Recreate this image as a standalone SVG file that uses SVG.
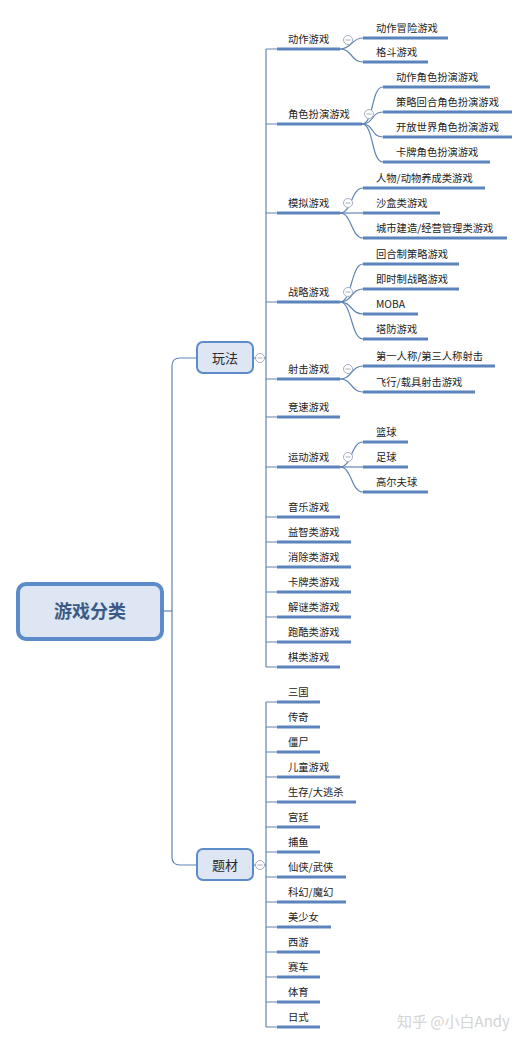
<svg xmlns="http://www.w3.org/2000/svg" width="529" height="1046" viewBox="0 0 529 1046">
<style>
.t{font-family:"Noto Sans CJK SC","Noto Sans",sans-serif;font-size:10.3px;fill:#222}
.u{stroke:#5a84bb;stroke-width:3;fill:none}
.c{stroke:#5f84b4;stroke-width:1.2;fill:none}
.b{fill:#dde6f2;stroke:#5b8bc9}
.bt{font-family:"Noto Sans CJK SC","Noto Sans",sans-serif;font-size:13px;fill:#2a2a2a;text-anchor:middle}
</style>
<defs>
<g id="m"><circle cx="0" cy="0" r="4.5" fill="#fff" stroke="#a3adbf" stroke-width="1"/><line x1="-2.5" y1="0" x2="2.5" y2="0" stroke="#a3adbf" stroke-width="1"/></g>
</defs>
<rect width="529" height="1046" fill="#fff"/>
<g id="connectors" class="c">
<path d="M163,611 H172"/>
<path d="M197,358 H180 Q172,358 172,366 V857 Q172,865 180,865 H197"/>
<path d="M253,358 H266"/>
<path d="M253,865 H266"/>
<path d="M266,49 V667"/>
<path d="M266,702 V1027"/>
<path d="M266,49H277M266,124H277M266,213H277M266,302H277M266,379H277M266,417H277M266,467H277M266,517H277M266,542H277M266,567H277M266,592H277M266,617H277M266,642H277M266,667H277"/>
<path d="M266,702H277M266,727H277M266,752H277M266,777H277M266,802H277M266,827H277M266,852H277M266,877H277M266,902H277M266,927H277M266,952H277M266,977H277M266,1002H277M266,1027H277"/>
<path d="M340,49 C352,49 351,38 363,38"/>
<path d="M340,49 C352,49 351,62 363,62"/>
<path d="M362,124 C374,124 371,87 383,87"/>
<path d="M362,124 C374,124 371,112 383,112"/>
<path d="M362,124 C374,124 371,137 383,137"/>
<path d="M362,124 C374,124 371,162 383,162"/>
<path d="M340,213 C352,213 351,188 363,188"/>
<path d="M340,213 H363"/>
<path d="M340,213 C352,213 351,238 363,238"/>
<path d="M340,302 C352,302 351,264 363,264"/>
<path d="M340,302 C352,302 351,289 363,289"/>
<path d="M340,302 C352,302 351,314 363,314"/>
<path d="M340,302 C352,302 351,339 363,339"/>
<path d="M340,379 C352,379 351,366 363,366"/>
<path d="M340,379 C352,379 351,392 363,392"/>
<path d="M340,467 C352,467 351,442 363,442"/>
<path d="M340,467 H363"/>
<path d="M340,467 C352,467 351,492 363,492"/>
</g>
<g id="root">
<rect class="b" x="18" y="584" width="144" height="55" rx="8" stroke-width="4"/>
<text x="90" y="618" font-family="'Noto Sans CJK SC','Noto Sans',sans-serif" font-size="18" font-weight="bold" fill="#3c5a86" text-anchor="middle">游戏分类</text>
</g>
<g id="wanfa">
<rect class="b" x="197" y="342" width="56" height="31" rx="6" stroke-width="2"/>
<text class="bt" x="225" y="363">玩法</text>
<use href="#m" x="260" y="358"/>
</g>
<g id="ticai">
<rect class="b" x="197" y="849" width="56" height="31" rx="6" stroke-width="2"/>
<text class="bt" x="225" y="870">题材</text>
<use href="#m" x="260" y="865"/>
</g>
<g id="l1-dongzuo"><path class="u" d="M277,49H340"/><text class="t" x="288" y="43">动作游戏</text><use href="#m" x="348" y="40"/></g>
<g id="l2-1"><path class="u" d="M363,38H448"/><text class="t" x="376" y="32">动作冒险游戏</text></g>
<g id="l2-2"><path class="u" d="M363,62H428"/><text class="t" x="376" y="56">格斗游戏</text></g>
<g id="l1-juese"><path class="u" d="M277,124H362"/><text class="t" x="288" y="118">角色扮演游戏</text><use href="#m" x="369" y="114"/></g>
<g id="l2-3"><path class="u" d="M383,87H490"/><text class="t" x="396" y="81">动作角色扮演游戏</text></g>
<g id="l2-4"><path class="u" d="M383,112H512"/><text class="t" x="396" y="106">策略回合角色扮演游戏</text></g>
<g id="l2-5"><path class="u" d="M383,137H512"/><text class="t" x="396" y="131">开放世界角色扮演游戏</text></g>
<g id="l2-6"><path class="u" d="M383,162H490"/><text class="t" x="396" y="156">卡牌角色扮演游戏</text></g>
<g id="l1-moni"><path class="u" d="M277,213H340"/><text class="t" x="288" y="207">模拟游戏</text><use href="#m" x="348" y="203"/></g>
<g id="l2-7"><path class="u" d="M363,188H485"/><text class="t" x="376" y="182">人物/动物养成类游戏</text></g>
<g id="l2-8"><path class="u" d="M363,213H440"/><text class="t" x="376" y="207">沙盒类游戏</text></g>
<g id="l2-9"><path class="u" d="M363,238H507"/><text class="t" x="376" y="232">城市建造/经营管理类游戏</text></g>
<g id="l1-zhanlue"><path class="u" d="M277,302H340"/><text class="t" x="288" y="296">战略游戏</text><use href="#m" x="348" y="292"/></g>
<g id="l2-10"><path class="u" d="M363,264H459"/><text class="t" x="376" y="258">回合制策略游戏</text></g>
<g id="l2-11"><path class="u" d="M363,289H459"/><text class="t" x="376" y="283">即时制战略游戏</text></g>
<g id="l2-12"><path class="u" d="M363,314H418"/><text class="t" x="376" y="308">MOBA</text></g>
<g id="l2-13"><path class="u" d="M363,339H428"/><text class="t" x="376" y="333">塔防游戏</text></g>
<g id="l1-sheji"><path class="u" d="M277,379H340"/><text class="t" x="288" y="373">射击游戏</text><use href="#m" x="348" y="369"/></g>
<g id="l2-14"><path class="u" d="M363,366H495"/><text class="t" x="376" y="360">第一人称/第三人称射击</text></g>
<g id="l2-15"><path class="u" d="M363,392H475"/><text class="t" x="376" y="386">飞行/载具射击游戏</text></g>
<g id="l1-jingsu"><path class="u" d="M277,417H340"/><text class="t" x="288" y="411">竞速游戏</text></g>
<g id="l1-yundong"><path class="u" d="M277,467H340"/><text class="t" x="288" y="461">运动游戏</text><use href="#m" x="348" y="457"/></g>
<g id="l2-16"><path class="u" d="M363,442H408"/><text class="t" x="376" y="436">篮球</text></g>
<g id="l2-17"><path class="u" d="M363,467H408"/><text class="t" x="376" y="461">足球</text></g>
<g id="l2-18"><path class="u" d="M363,492H428"/><text class="t" x="376" y="486">高尔夫球</text></g>
<g id="l1-yinyue"><path class="u" d="M277,517H340"/><text class="t" x="288" y="511">音乐游戏</text></g>
<g id="l1-yizhi"><path class="u" d="M277,542H351"/><text class="t" x="288" y="536">益智类游戏</text></g>
<g id="l1-xiaochu"><path class="u" d="M277,567H351"/><text class="t" x="288" y="561">消除类游戏</text></g>
<g id="l1-kapai"><path class="u" d="M277,592H351"/><text class="t" x="288" y="586">卡牌类游戏</text></g>
<g id="l1-jiemi"><path class="u" d="M277,617H351"/><text class="t" x="288" y="611">解谜类游戏</text></g>
<g id="l1-paoku"><path class="u" d="M277,642H351"/><text class="t" x="288" y="636">跑酷类游戏</text></g>
<g id="l1-qilei"><path class="u" d="M277,667H340"/><text class="t" x="288" y="661">棋类游戏</text></g>
<g id="t-1"><path class="u" d="M277,702H320"/><text class="t" x="288" y="696">三国</text></g>
<g id="t-2"><path class="u" d="M277,727H320"/><text class="t" x="288" y="721">传奇</text></g>
<g id="t-3"><path class="u" d="M277,752H320"/><text class="t" x="288" y="746">僵尸</text></g>
<g id="t-4"><path class="u" d="M277,777H340"/><text class="t" x="288" y="771">儿童游戏</text></g>
<g id="t-5"><path class="u" d="M277,802H356"/><text class="t" x="288" y="796">生存/大逃杀</text></g>
<g id="t-6"><path class="u" d="M277,827H320"/><text class="t" x="288" y="821">宫廷</text></g>
<g id="t-7"><path class="u" d="M277,852H320"/><text class="t" x="288" y="846">捕鱼</text></g>
<g id="t-8"><path class="u" d="M277,877H346"/><text class="t" x="288" y="871">仙侠/武侠</text></g>
<g id="t-9"><path class="u" d="M277,902H346"/><text class="t" x="288" y="896">科幻/魔幻</text></g>
<g id="t-10"><path class="u" d="M277,927H331"/><text class="t" x="288" y="921">美少女</text></g>
<g id="t-11"><path class="u" d="M277,952H320"/><text class="t" x="288" y="946">西游</text></g>
<g id="t-12"><path class="u" d="M277,977H320"/><text class="t" x="288" y="971">赛车</text></g>
<g id="t-13"><path class="u" d="M277,1002H320"/><text class="t" x="288" y="996">体育</text></g>
<g id="t-14"><path class="u" d="M277,1027H320"/><text class="t" x="288" y="1021">日式</text></g>
<text x="397" y="1027" font-family="'Noto Sans CJK SC','Noto Sans',sans-serif" font-size="15" fill="#d4d4d4">知乎 @小白Andy</text>
</svg>
